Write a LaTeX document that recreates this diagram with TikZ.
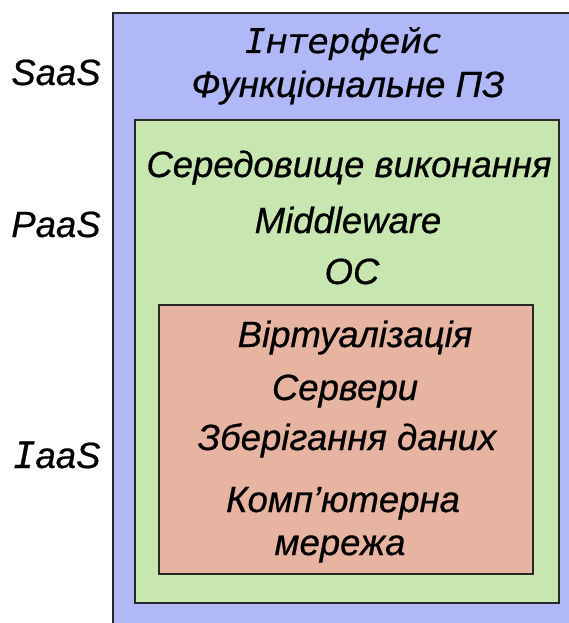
\documentclass[tikz,border=0pt]{standalone}
\usepackage{fontspec}
\setmainfont{Liberation Sans}[FakeBold=0.6]
\newfontfamily\vfont{DejaVu Sans}[FakeBold=0.6]
\newfontfamily\monofont{DejaVu Sans Mono}[FakeBold=0.6]
\definecolor{saasfill}{RGB}{176,184,248}
\definecolor{paasfill}{RGB}{200,230,176}
\definecolor{iaasfill}{RGB}{230,180,160}
\definecolor{edge}{RGB}{40,40,40}
\tikzset{
  layer/.style={draw=edge, line width=1.4pt},
  item/.style={anchor=base, inner sep=0pt, font=\fontsize{36.5}{40}\selectfont\itshape},
  tag/.style={anchor=base, inner sep=0pt, font=\fontsize{36.5}{40}\selectfont\itshape}
}
\begin{document}
\begin{tikzpicture}[x=1pt,y=-1pt]
  \useasboundingbox (0,0) rectangle (569,623);
  \clip (0,0) rectangle (569,623);
  \fill[white] (0,0) rectangle (569,623);

  % nested service layers
  \draw[layer, fill=saasfill] (113,13) rectangle (590,650);
  \draw[layer, fill=paasfill] (135,120) rectangle (559,603);
  \draw[layer, fill=iaasfill] (159,305) rectangle (533,574);

  % SaaS layer
  \node[item, font=\fontsize{34}{38}\selectfont\vfont\itshape] (s1) at (343,53) {{\monofont І}нтерфейс};
  \node[item] (s2) at (348,97) {Функціональне ПЗ};

  % PaaS layer
  \node[item] (p1) at (349,177) {Середовище виконання};
  \node[item] (p2) at (348,233) {Middleware};
  \node[item] (p3) at (352,284) {ОС};

  % IaaS layer
  \node[item] (i1) at (355,347) {Віртуалізація};
  \node[item] (i2) at (345,400) {Сервери};
  \node[item] (i3) at (347,450) {Зберігання даних};
  \node[item] (i4) at (343,512) {Комп’ютерна};
  \node[item] (i5) at (340,555) {мережа};

  % model labels
  \node[tag] (saas) at (56,85) {SaaS};
  \node[tag] (paas) at (56,237) {PaaS};
  \node[tag] (iaas) at (57,468) {{\monofont I}aaS};
\end{tikzpicture}
\end{document}
